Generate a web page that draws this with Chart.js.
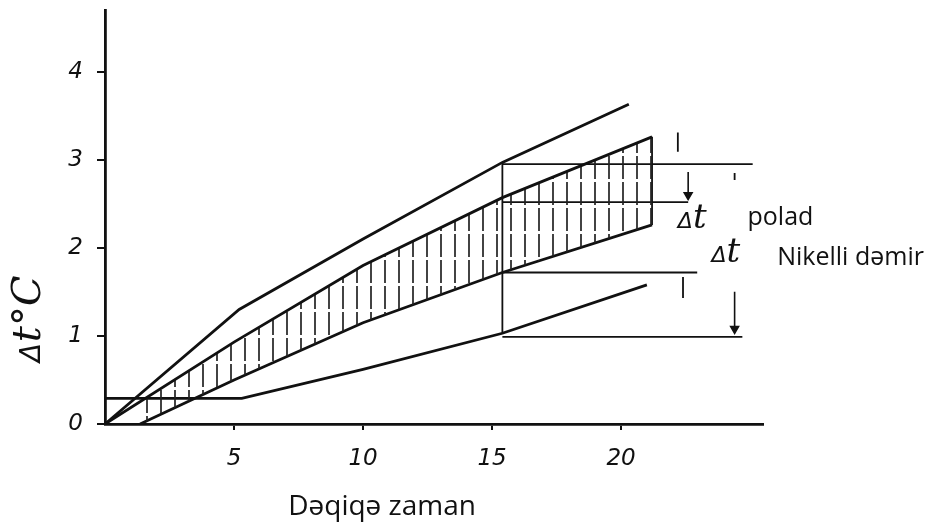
<!DOCTYPE html>
<html>
<head>
<meta charset="utf-8">
<script src="https://cdn.jsdelivr.net/npm/chart.js@4.4.1/dist/chart.umd.min.js"></script>
<style>
  html, body { margin: 0; padding: 0; background: #fff; }
  #wrap { width: 941px; height: 525px; position: relative; }
</style>
</head>
<body>
<div id="wrap"><canvas id="chart"></canvas></div>
<script>
// ── data (x: minutes, y: Δt °C) ──
const xTicks = [5, 10, 15, 20];
const yTicks = [0, 1, 2, 3, 4];

const topX = [0, 5.2, 10, 15.4, 20.3];
const topY = [0, 1.3, 2.1, 2.97, 3.63];

const steelX = [0, 5, 10, 15.4, 21.2];      // upper edge of hatched band
const steelY = [0, 0.93, 1.8, 2.57, 3.26];

const nickelX = [1.36, 5, 10, 15.4, 21.2];  // lower edge of hatched band
const nickelY = [0, 0.5, 1.15, 1.72, 2.26];

const bottomX = [0, 5.3, 10, 15.4, 21];
const bottomY = [0.29, 0.29, 0.62, 1.03, 1.58];

// dimension lines at t = 15.4 min
const guideX = [[15.4, 15.4], [15.4, 25.1], [15.4, 22.6], [15.4, 22.95], [15.4, 24.7], [21.2, 21.2]];
const guideY = [[1.03, 2.97], [2.95, 2.95], [2.52, 2.52], [1.72, 1.72], [0.99, 0.99], [2.26, 3.26]];

const arrowX = [22.6, 24.4];
const arrowFrom = [2.86, 1.5];
const arrowTo = [2.6, 1.08];

const markX = [22.2, 24.4, 22.4];
const markFrom = [3.31, 2.85, 1.67];
const markTo = [3.09, 2.77, 1.43];

const xTitle = 'Dəqiqə zaman';
const yTitle = ['Δ', 't°C'];
const notes = [
  { x: 22.2, y: 2.23, delta: true },
  { x: 24.9, y: 2.26, text: 'polad' },
  { x: 23.5, y: 1.84, delta: true },
  { x: 26.05, y: 1.81, text: 'Nikelli dəmir' },
];

const ink = '#111';
const pts = (xs, ys) => xs.map((x, i) => ({ x, y: ys[i] }));

function hatch() {
  const c = document.createElement('canvas');
  c.width = 14; c.height = 26;
  const g = c.getContext('2d');
  g.strokeStyle = '#222';
  g.lineWidth = 1.7;
  g.beginPath(); g.moveTo(7, 0); g.lineTo(7, 23); g.stroke();
  return g.createPattern(c, 'repeat');
}

const curve = (xs, ys, extra) => Object.assign({
  data: pts(xs, ys), borderColor: ink, borderWidth: 2.8,
  pointRadius: 0, fill: false, tension: 0,
}, extra);

const datasets = [
  curve(topX, topY),
  curve(steelX, steelY, { fill: { target: 2 }, backgroundColor: hatch() }),
  curve(nickelX, nickelY),
  curve(bottomX, bottomY),
];

guideX.forEach((gx, i) => datasets.push(curve(gx, guideY[i], { borderWidth: 1.8 })));

arrowX.forEach((ax, i) => datasets.push(curve([ax, ax], [arrowFrom[i], arrowTo[i]], {
  borderWidth: 1.6, pointRadius: [0, 4.5], pointStyle: 'triangle', rotation: 180,
  pointBackgroundColor: ink, pointBorderColor: ink,
})));

markX.forEach((mx, i) => datasets.push(curve([mx, mx], [markFrom[i], markTo[i]], { borderWidth: 1.8 })));

// text labels placed through the scales
const textPlugin = {
  id: 'texts',
  afterDatasetsDraw(chart) {
    const { ctx, scales: { x, y } } = chart;
    ctx.save();
    ctx.fillStyle = ink;
    ctx.textBaseline = 'alphabetic';
    ctx.textAlign = 'left';

    notes.forEach(n => {
      let px = x.getPixelForValue(n.x);
      const py = y.getPixelForValue(n.y);
      if (n.delta) {
        ctx.font = 'italic 22px "DejaVu Sans"';
        ctx.fillText('Δ', px, py);
        px += ctx.measureText('Δ').width;
        ctx.font = 'italic 34px "DejaVu Serif"';
        ctx.fillText('t', px, py);
      } else {
        ctx.font = '25px "Open Sans"';
        ctx.fillText(n.text, px, py);
      }
    });

    // y title, rotated, reading upwards
    ctx.save();
    ctx.translate(40, y.getPixelForValue(0.7));
    ctx.rotate(-Math.PI / 2);
    ctx.font = 'italic 28px "DejaVu Sans"';
    ctx.fillText(yTitle[0], 0, 0);
    const w = ctx.measureText(yTitle[0]).width + 1;
    ctx.font = 'italic 40px "DejaVu Serif"';
    ctx.fillText(yTitle[1], w, 0);
    ctx.restore();

    // x title
    ctx.font = '28px "Open Sans"';
    ctx.fillText(xTitle, x.getPixelForValue(7.1), 515);
    ctx.restore();
  },
};

const tickFont = { family: 'DejaVu Sans', size: 23, style: 'italic' };

new Chart(document.getElementById('chart'), {
  type: 'line',
  data: { datasets },
  plugins: [textPlugin],
  options: {
    responsive: true,
    maintainAspectRatio: false,
    animation: false,
    layout: { autoPadding: false, padding: { left: 0, right: 178, top: 10, bottom: 0 } },
    plugins: { legend: { display: false }, tooltip: { enabled: false } },
    scales: {
      x: {
        type: 'linear', min: 0, max: 25.5,
        afterBuildTicks: s => { s.ticks = xTicks.map(v => ({ value: v })); },
        afterFit: s => { s.height = 101; s.paddingLeft = 0; s.paddingRight = 0; },
        ticks: { color: ink, font: tickFont, padding: 15, maxRotation: 0 },
        grid: { drawOnChartArea: false, tickLength: 6, color: ink, lineWidth: 2 },
        border: { color: ink, width: 2.8 },
      },
      y: {
        type: 'linear', min: 0, max: 4.7,
        afterBuildTicks: s => { s.ticks = yTicks.map(v => ({ value: v })); },
        afterFit: s => { s.width = 105; s.paddingTop = 0; s.paddingBottom = 0; },
        ticks: { color: ink, font: tickFont, padding: 14 },
        grid: { drawOnChartArea: false, tickLength: 8, color: ink, lineWidth: 2 },
        border: { color: ink, width: 2.8 },
      },
    },
  },
});
</script>
</body>
</html>
